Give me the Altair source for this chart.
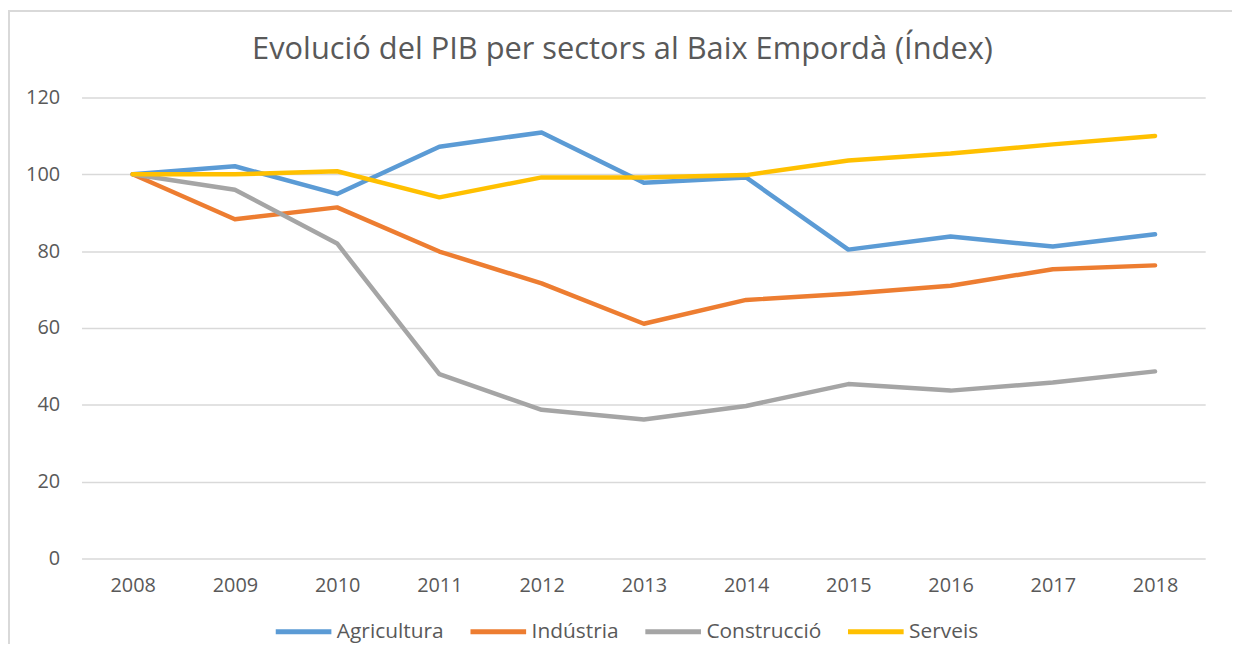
import altair as alt
import pandas as pd

years = ["2008", "2009", "2010", "2011", "2012", "2013", "2014", "2015", "2016", "2017", "2018"]
agricultura = [100, 102.1, 94.9, 107.2, 110.9, 97.8, 99.2, 80.4, 83.8, 81.2, 84.4]
industria = [100, 88.3, 91.4, 79.9, 71.6, 61.1, 67.3, 68.9, 71.0, 75.3, 76.3]
construccio = [100, 96.0, 82.0, 48.0, 38.7, 36.2, 39.7, 45.4, 43.7, 45.8, 48.7]
serveis = [100, 100, 100.8, 94.0, 99.2, 99.2, 99.8, 103.6, 105.4, 107.8, 110.0]

series_names = ["Agricultura", "Indústria", "Construcció", "Serveis"]
series_values = [agricultura, industria, construccio, serveis]
colors = ["#5B9BD5", "#ED7D31", "#A5A5A5", "#FFC000"]

rows = []
for name, vals in zip(series_names, series_values):
    for yr, v in zip(years, vals):
        rows.append({"year": yr, "value": v, "sector": name, "order": series_names.index(name)})
df = pd.DataFrame(rows)

W, H = 1132, 464
FONT = "Open Sans"
GREY = "#595959"
GRID = "#D9D9D9"

lines = alt.Chart(df).mark_line(strokeWidth=4.5, strokeCap="round", strokeJoin="round").encode(
    x=alt.X("year:O", sort=years, title=None,
            scale=alt.Scale(type="point", padding=0.5),
            axis=alt.Axis(labelAngle=0, ticks=False, domain=False,
                          labelPadding=17, labelFontSize=20, labelColor=GREY, labelFont=FONT, grid=False)),
    y=alt.Y("value:Q", title=None,
            scale=alt.Scale(domain=[0, 120], nice=False, zero=True),
            axis=alt.Axis(values=[0, 20, 40, 60, 80, 100, 120], domain=False, ticks=False,
                          gridColor=GRID, gridWidth=1.5, labelPadding=22, labelFontSize=20,
                          labelColor=GREY, labelFont=FONT)),
    color=alt.Color("sector:N", sort=series_names,
                    scale=alt.Scale(domain=series_names, range=colors),
                    legend=alt.Legend(title=None, orient="none", direction="horizontal",
                                      legendX=193, legendY=507,
                                      symbolType="stroke", symbolSize=3136, symbolStrokeWidth=5,
                                      labelFontSize=21, labelColor=GREY, labelFont=FONT,
                                      labelOffset=3, columnPadding=16, symbolOffset=0)),
    order=alt.Order("order:Q"),
)

frame_df = pd.DataFrame({"a": [0]})
frame = alt.Chart(frame_df).mark_rect(fill="transparent", stroke=GRID, strokeWidth=2).encode(
    x=alt.value(-73), x2=alt.value(W + 30), y=alt.value(-87), y2=alt.value(H + 130))

# white mask over the plot's right edge (the reference has no vertical edge there)
edge_mask = alt.Chart(frame_df).mark_rule(color="white", strokeWidth=3).encode(
    x=alt.value(W + 1), y=alt.value(-2), y2=alt.value(H + 2))

chart = alt.layer(frame, lines, edge_mask).properties(
    width=W, height=H,
    background="white",
    title=alt.Title("Evolució del PIB per sectors al Baix Empordà (Índex)",
                    fontSize=31, font=FONT, fontWeight="normal", color=GREY,
                    anchor="middle", frame="bounds", offset=0, dy=56),
    autosize=alt.AutoSizeParams(type="none"),
    padding={"left": 74, "top": 88, "right": 26, "bottom": 84},
).configure(
    view=alt.ViewConfig(stroke="transparent", strokeWidth=0, strokeOpacity=0),
    style={"cell": {"stroke": "transparent", "strokeWidth": 0}},
)

chart.save("out.html", embed_options={"renderer": "svg", "actions": False})
